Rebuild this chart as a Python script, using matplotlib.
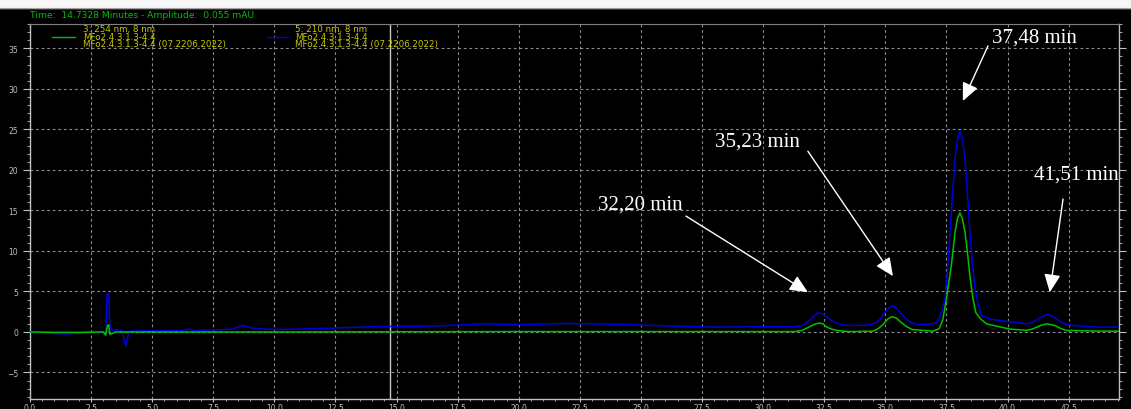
import matplotlib
matplotlib.use("Agg")
import matplotlib.pyplot as plt
from matplotlib.lines import Line2D
from matplotlib.patches import Rectangle
from matplotlib.ticker import MultipleLocator, FormatStrFormatter

# 210 nm trace (blue)
blue_t = [0.0, 0.5, 1.0, 1.5, 2.0, 2.5, 3.0, 3.1, 3.15, 3.22, 3.27, 3.35, 3.5, 3.8,
          3.85, 3.92, 3.98, 4.05, 5.0, 6.3, 6.5, 6.7, 7.5, 8.3, 8.5, 8.7, 8.9, 9.1,
          10.0, 11.0, 12.5, 14.0, 15.0, 16.0, 17.0, 18.5, 20.0, 22.0, 24.0, 26.0,
          28.0, 30.0, 31.3, 31.6, 31.8, 31.95, 32.1, 32.2, 32.3, 32.45, 32.6, 32.8,
          33.0, 33.3, 33.6, 34.3, 34.6, 34.8, 34.95, 35.1, 35.27, 35.4, 35.55, 35.75,
          35.95, 36.3, 36.95, 37.1, 37.2, 37.3, 37.44, 37.54, 37.64, 37.75, 37.85,
          37.95, 38.05, 38.15, 38.26, 38.36, 38.46, 38.56, 38.67, 38.8, 38.94, 39.3,
          39.7, 40.3, 40.78, 41.0, 41.2, 41.4, 41.6, 41.8, 42.0, 42.2, 42.4, 43.0,
          43.8, 44.6]
blue_v = [0.0, -0.05, -0.2, -0.25, -0.15, -0.05, 0.0, 0.1, 4.7, 4.7, 0.6, 0.2, 0.25, 0.15,
          -1.0, -1.7, -1.0, 0.1, 0.15, 0.2, 0.35, 0.2, 0.25, 0.35, 0.6, 0.8, 0.65, 0.45,
          0.3, 0.35, 0.5, 0.65, 0.7, 0.7, 0.8, 1.0, 0.9, 1.05, 0.95, 0.75,
          0.6, 0.65, 0.65, 0.8, 1.2, 1.6, 2.0, 2.3, 2.35, 2.2, 1.9, 1.4,
          1.1, 0.85, 0.8, 0.85, 1.1, 1.6, 2.3, 2.9, 3.2, 3.1, 2.6, 1.9,
          1.3, 0.9, 1.0, 1.2, 1.6, 2.5, 4.1, 7.5, 12.3, 17.0, 21.4,
          23.8, 24.8, 23.8, 21.4, 17.0, 12.3, 8.5, 5.3, 3.3, 2.0, 1.6,
          1.4, 1.2, 1.0, 1.15, 1.5, 1.9, 2.15, 2.0, 1.6, 1.2, 0.9, 0.7,
          0.6, 0.6]

# 254 nm trace (green)
green_t = [0.0, 1.0, 2.0, 3.0, 3.1, 3.17, 3.22, 3.27, 3.35, 3.5, 10.0, 20.0, 31.3,
           31.6, 31.8, 32.0, 32.15, 32.3, 32.45, 32.6, 32.8, 33.1, 33.5, 34.5, 34.7,
           34.9, 35.1, 35.27, 35.45, 35.6, 35.85, 36.1, 36.95, 37.2, 37.35, 37.5, 37.6,
           37.7, 37.85, 37.95, 38.05, 38.15, 38.26, 38.36, 38.46, 38.58, 38.7, 38.9,
           39.14, 40.1, 40.8, 41.0, 41.2, 41.4, 41.6, 41.8, 42.0, 42.2, 42.4, 43.8, 44.6]
green_v = [0.0, -0.05, -0.05, 0.0, -0.4, 0.8, 0.9, -0.3, -0.2, 0.0, 0.0, 0.05, 0.05,
           0.2, 0.5, 0.8, 1.0, 1.1, 1.0, 0.6, 0.35, 0.15, 0.05, 0.1, 0.4,
           0.9, 1.6, 1.9, 1.7, 1.3, 0.7, 0.3, 0.1, 0.4, 1.5, 4.1, 6.2,
           8.2, 12.3, 14.0, 14.7, 14.0, 12.3, 9.8, 6.9, 4.2, 2.4, 1.6,
           1.0, 0.35, 0.2, 0.35, 0.6, 0.85, 1.0, 0.9, 0.7, 0.4, 0.2, 0.1, 0.1]

cursor_time = 14.7328

# peak labels: text, text position, arrow tail, arrow tip
peak_labels = ["32,20 min", "35,23 min", "37,48 min", "41,51 min"]
label_xy = [(24.96, 15.8), (29.75, 23.5), (41.12, 36.4), (42.8, 19.5)]
arrow_tail = [(26.84, 14.3), (31.83, 22.3), (39.2, 35.3), (42.27, 16.4)]
arrow_tip = [(31.83, 4.9), (35.31, 6.9), (38.17, 28.5), (41.73, 4.9)]

W, H = 1131, 410
GREEN = "#00c000"
BLUE = "#0000dc"
YELLOW = "#c8c800"
TICK_GREY = "#c0c0c0"

fig = plt.figure(figsize=(W / 100, H / 100), dpi=100, facecolor="black")
ax = fig.add_axes([30 / W, 1 - 400 / H, (1119 - 30) / W, (400 - 25) / H])
ax.set_facecolor("black")

ax.plot(blue_t, blue_v, color=BLUE, lw=1.1, zorder=3)
ax.plot(green_t, green_v, color=GREEN, lw=1.1, zorder=4)
ax.axvline(cursor_time, color="#c8c8c8", lw=1.0, zorder=2)

ax.set_xlim(0, 44.56)
ax.set_ylim(-8.27, 38.0)
ax.xaxis.set_major_locator(MultipleLocator(2.5))
ax.xaxis.set_minor_locator(MultipleLocator(0.5))
ax.xaxis.set_major_formatter(FormatStrFormatter("%.1f"))
ax.yaxis.set_major_locator(MultipleLocator(5))
ax.yaxis.set_minor_locator(MultipleLocator(1))
ax.grid(True, which="major", color="#8c8c8c", lw=0.8, linestyle=(0, (2.5, 2.5)))

ax.tick_params(which="both", colors=TICK_GREY, direction="out",
               right=True, labelright=True, labelsize=5.5)
ax.tick_params(which="major", length=5, width=0.8)
ax.tick_params(which="minor", length=2.5, width=0.6)
ax.tick_params(axis="x", which="major", length=2.5, pad=0.5)
ax.tick_params(axis="x", which="minor", length=1.5)
for side in ["left", "right", "bottom"]:
    ax.spines[side].set_color(TICK_GREY)
    ax.spines[side].set_linewidth(1.0)
ax.spines["top"].set_color("#808080")

for text, xy, tail, tip in zip(peak_labels, label_xy, arrow_tail, arrow_tip):
    ax.text(xy[0], xy[1], text, color="white", fontsize=15, family="Liberation Serif",
            ha="center", va="center", zorder=6)
    ax.annotate("", xy=tip, xytext=tail, zorder=6,
                arrowprops=dict(arrowstyle="-|>,head_length=0.55,head_width=0.25",
                                mutation_scale=20, color="white", lw=1.0,
                                shrinkA=0, shrinkB=0))

# white strip on top of the screenshot
fig.patches.append(Rectangle((0, 1 - 9 / H), 1, 9 / H, transform=fig.transFigure,
                             color="#f6f6f6", zorder=0))
fig.add_artist(Line2D([0, 1], [1 - 9 / H, 1 - 9 / H], color="#a0a0a0", lw=0.8))

fig.text(30 / W, 1 - 16 / H, "Time:  14.7328 Minutes - Amplitude:  0.055 mAU",
         color=GREEN, fontsize=6.6, va="center", ha="left")

# legend block
leg_rows = [1 - 29.5 / H, 1 - 37.5 / H, 1 - 45 / H]
legend_left = ["3: 254 nm, 8 nm", "MFo2.4.3.1.3-4.4", "MFo2.4.3.1.3-4.4 (07.2206.2022)"]
legend_right = ["5: 210 nm, 8 nm", "MFo2.4.3.1.3-4.4", "MFo2.4.3.1.3-4.4 (07.2206.2022)"]
for y, a, b in zip(leg_rows, legend_left, legend_right):
    fig.text(83 / W, y, a, color=YELLOW, fontsize=6.3, va="center", ha="left")
    fig.text(295 / W, y, b, color=YELLOW, fontsize=6.3, va="center", ha="left")
fig.add_artist(Line2D([52 / W, 75 / W], [leg_rows[1]] * 2, color=GREEN, lw=1.0))
fig.add_artist(Line2D([267 / W, 288 / W], [leg_rows[1]] * 2, color=BLUE, lw=1.0))

fig.savefig("out.png", dpi=100, facecolor="black")
